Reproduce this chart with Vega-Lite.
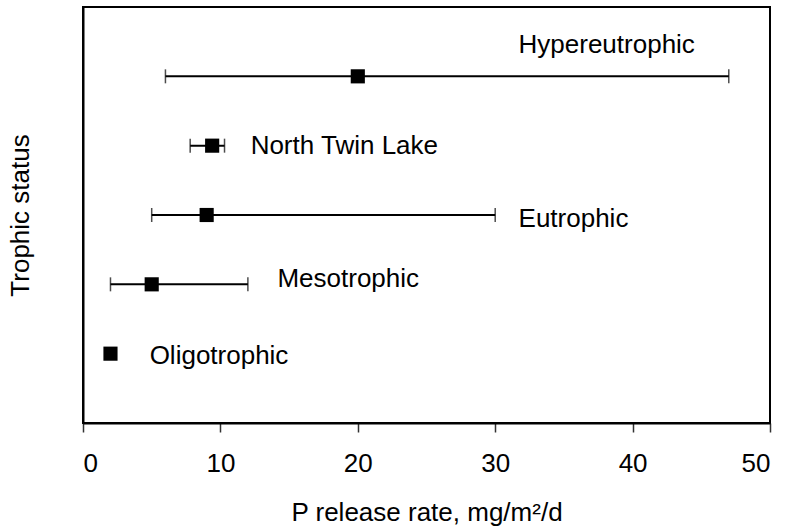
{
  "$schema": "https://vega.github.io/schema/vega-lite/v6.json",
  "autosize": {"type": "none"},
  "padding": {"left": 83, "top": 7, "right": 17, "bottom": 108},
  "width": 687,
  "height": 416,
  "background": "white",
  "config": {
    "font": "Liberation Sans",
    "view": {"stroke": "black", "strokeWidth": 2},
    "axis": {"grid": false, "domainColor": "black", "domainWidth": 2, "titleFontWeight": "normal", "titleFontSize": 26, "labelFontSize": 26, "labelColor": "black", "titleColor": "black", "tickColor": "#333333"}
  },
  "data": {
    "values": [
      {"status": "Hypereutrophic", "row": 5, "rate": 20, "lo": 6, "hi": 47, "labelX": 31.7, "labelY": 5.45},
      {"status": "North Twin Lake", "row": 4, "rate": 9.4, "lo": 7.8, "hi": 10.3, "labelX": 12.2, "labelY": 4.0},
      {"status": "Eutrophic", "row": 3, "rate": 9, "lo": 5, "hi": 30, "labelX": 31.7, "labelY": 2.94},
      {"status": "Mesotrophic", "row": 2, "rate": 5, "lo": 2, "hi": 12, "labelX": 14.15, "labelY": 2.08},
      {"status": "Oligotrophic", "row": 1, "rate": 2, "lo": null, "hi": null, "labelX": 4.85, "labelY": 0.97}
    ]
  },
  "layer": [
    {
      "mark": {"type": "rule", "color": "black", "strokeWidth": 2},
      "encoding": {
        "x": {"field": "lo", "type": "quantitative", "scale": {"domain": [0, 50], "nice": false},
          "axis": {"values": [0, 10, 20, 30, 40, 50], "tickSize": 9, "tickWidth": 1.5, "labelPadding": 18, "titlePadding": 23, "title": "P release rate, mg/m²/d"}},
        "x2": {"field": "hi"},
        "y": {"field": "row", "type": "quantitative", "scale": {"domain": [0, 6], "nice": false},
          "axis": {"labels": false, "ticks": false, "title": "Trophic status", "titlePadding": 50}}
      }
    },
    {
      "mark": {"type": "tick", "orient": "vertical", "color": "black", "size": 14, "thickness": 1.5},
      "encoding": {
        "x": {"field": "lo", "type": "quantitative"},
        "y": {"field": "row", "type": "quantitative"}
      }
    },
    {
      "mark": {"type": "tick", "orient": "vertical", "color": "black", "size": 14, "thickness": 1.5},
      "encoding": {
        "x": {"field": "hi", "type": "quantitative"},
        "y": {"field": "row", "type": "quantitative"}
      }
    },
    {
      "mark": {"type": "point", "shape": "square", "filled": true, "color": "black", "size": 200, "opacity": 1},
      "encoding": {
        "x": {"field": "rate", "type": "quantitative"},
        "y": {"field": "row", "type": "quantitative"}
      }
    },
    {
      "mark": {"type": "text", "align": "left", "baseline": "middle", "fontSize": 26, "color": "black"},
      "encoding": {
        "x": {"field": "labelX", "type": "quantitative"},
        "y": {"field": "labelY", "type": "quantitative"},
        "text": {"field": "status"}
      }
    }
  ]
}
